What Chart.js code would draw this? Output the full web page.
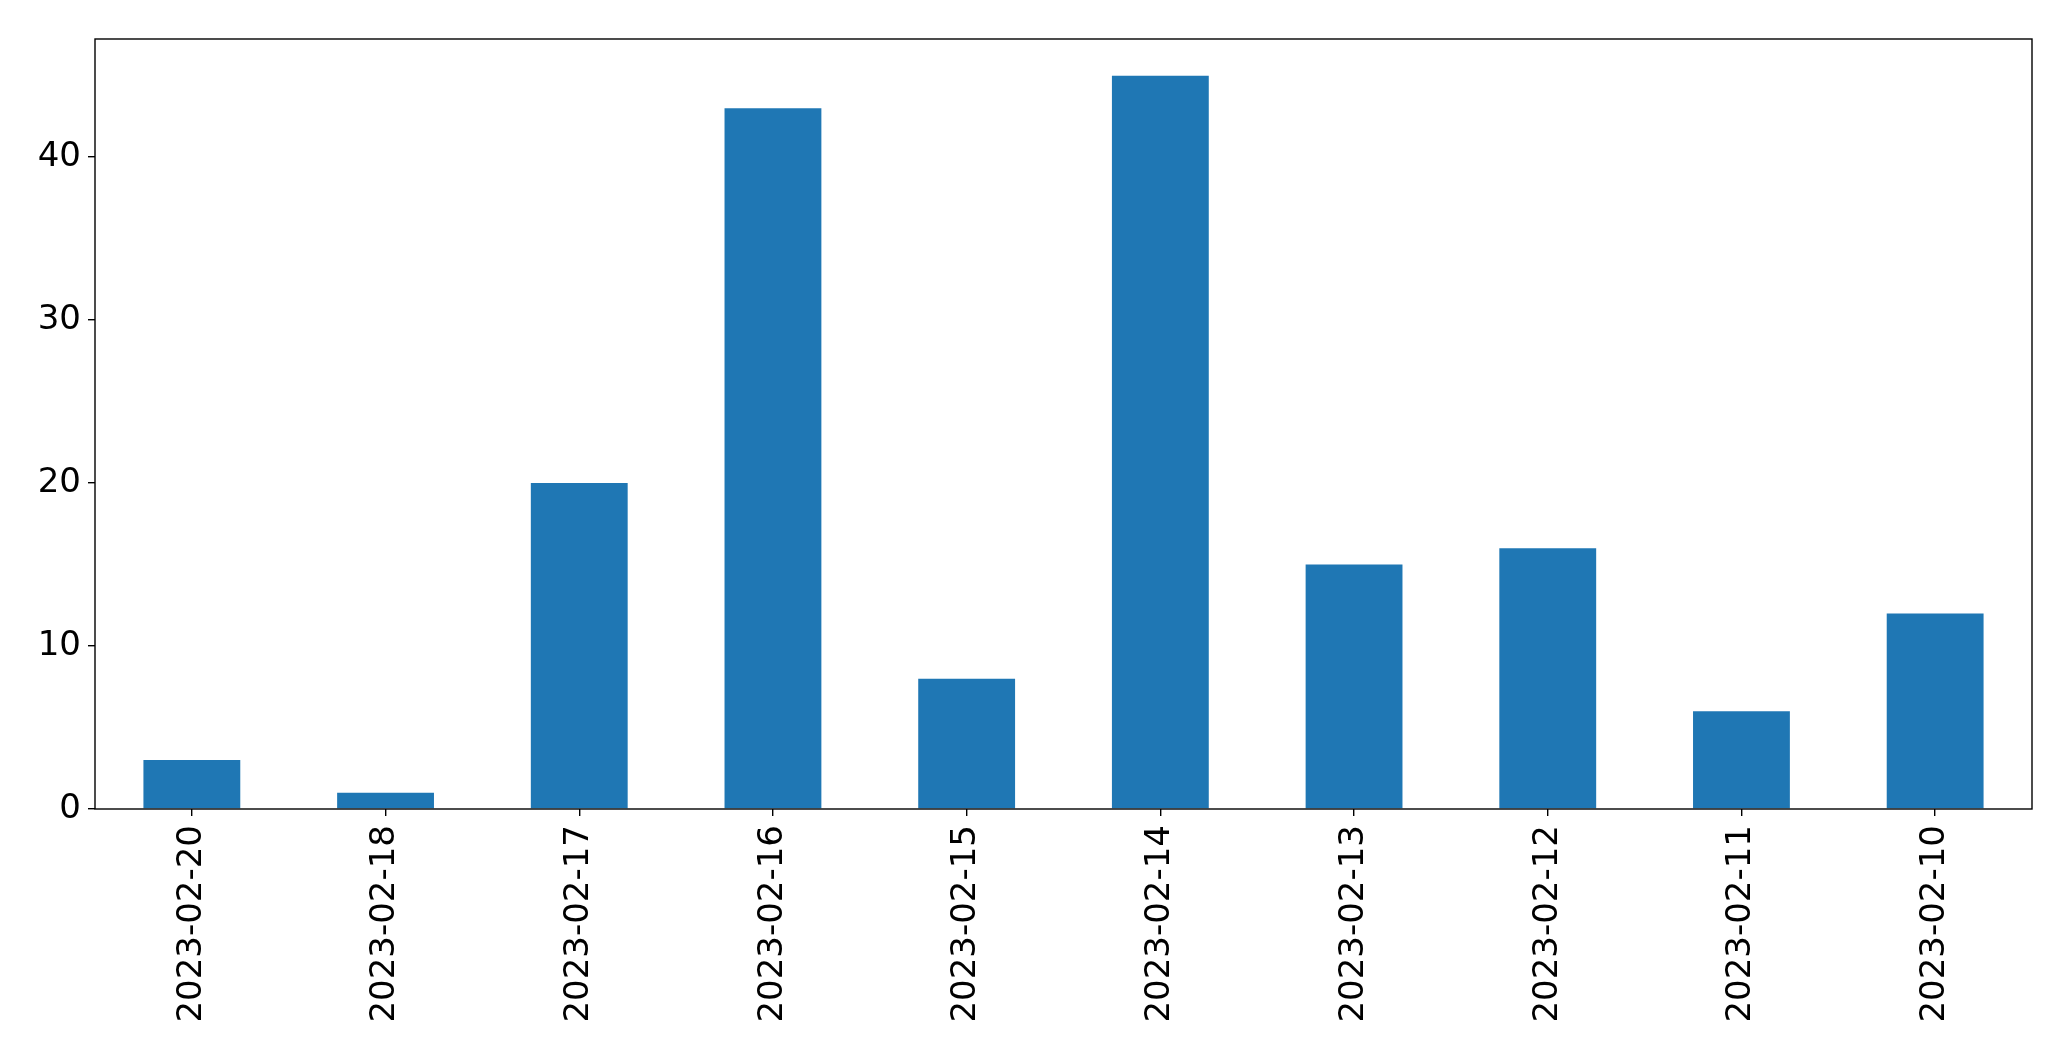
<!DOCTYPE html>
<html>
<head>
<meta charset="utf-8">
<style>
  html, body { margin: 0; padding: 0; background: #fff; }
  #wrap { width: 2071px; height: 1061px; }
</style>
<script src="https://cdn.jsdelivr.net/npm/chart.js@4/dist/chart.umd.min.js"></script>
</head>
<body>
<div id="wrap"><canvas id="chart" width="2071" height="1061"></canvas></div>
<script>
const dates = ['2023-02-20', '2023-02-18', '2023-02-17', '2023-02-16', '2023-02-15',
               '2023-02-14', '2023-02-13', '2023-02-12', '2023-02-11', '2023-02-10'];
const counts = [3, 1, 20, 43, 8, 45, 15, 16, 6, 12];
const yTicks = [0, 10, 20, 30, 40];

// box around the plot area, like matplotlib spines
const frame = {
  id: 'frame',
  afterDraw(chart) {
    const { ctx, chartArea: a } = chart;
    ctx.save();
    ctx.strokeStyle = '#000';
    ctx.lineWidth = 1.4;
    ctx.strokeRect(a.left, a.top, a.right - a.left, a.bottom - a.top);
    ctx.restore();
  }
};

new Chart(document.getElementById('chart'), {
  type: 'bar',
  data: {
    labels: dates,
    datasets: [{
      data: counts,
      backgroundColor: '#1f77b4',
      categoryPercentage: 1,
      barPercentage: 0.5
    }]
  },
  options: {
    responsive: false,
    animation: false,
    layout: { padding: { top: 39, right: 39, left: 0, bottom: 0 } },
    plugins: { legend: { display: false }, tooltip: { enabled: false } },
    scales: {
      x: {
        offset: true,
        grid: { display: true, offset: false, drawOnChartArea: false, drawTicks: true, tickLength: 7, color: '#000', lineWidth: 1.4 },
        border: { display: false },
        ticks: {
          color: '#000',
          font: { family: 'DejaVu Sans', size: 34 },
          maxRotation: 90,
          minRotation: 90,
          padding: 9,
          autoSkip: false
        },
        afterFit(s) { s.height = 252; }
      },
      y: {
        min: 0,
        max: 47.25,
        afterBuildTicks(s) { s.ticks = yTicks.map(v => ({ value: v })); },
        grid: { display: true, drawOnChartArea: false, drawTicks: true, tickLength: 7, color: '#000', lineWidth: 1.4 },
        border: { display: false },
        ticks: {
          color: '#000',
          font: { family: 'DejaVu Sans', size: 34 },
          padding: 7
        },
        afterFit(s) { s.width = 95; }
      }
    }
  },
  plugins: [frame]
});
</script>
</body>
</html>
